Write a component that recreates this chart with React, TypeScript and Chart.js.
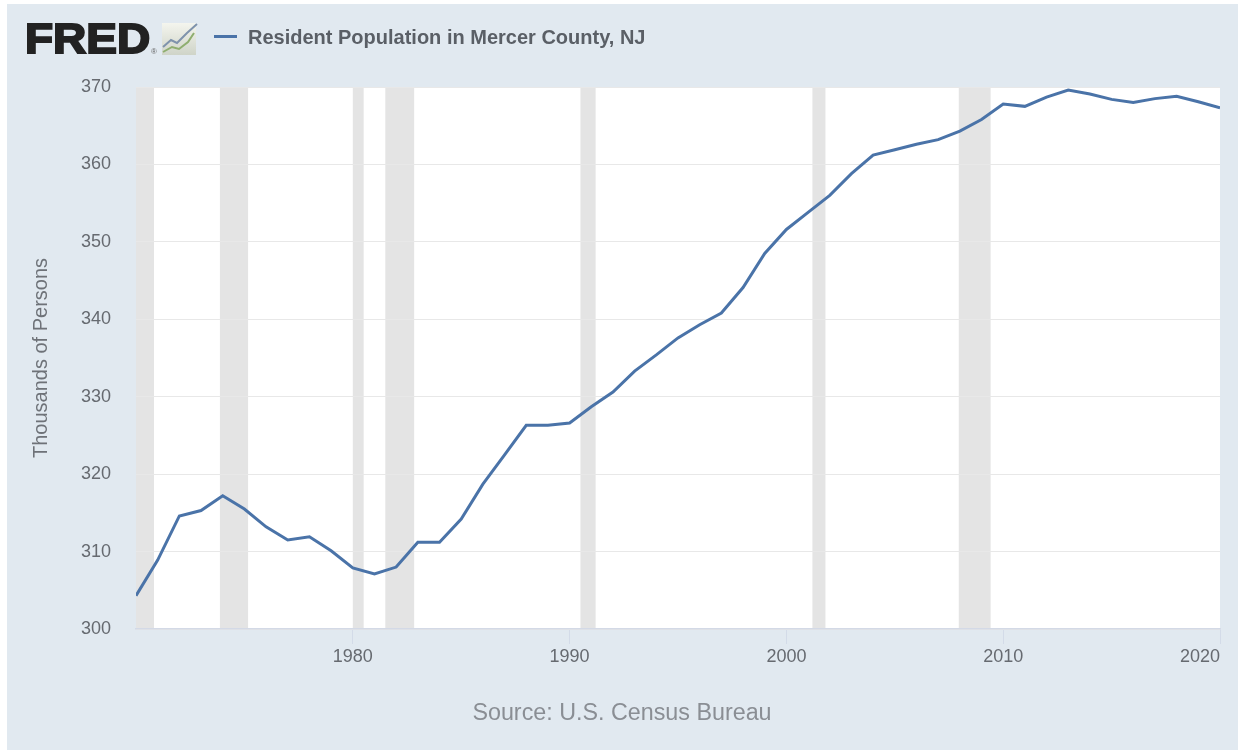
import React, { useEffect, useRef } from "react";
import { Chart, registerables } from "chart.js";

Chart.register(...registerables);

const seriesName = "Resident Population in Mercer County, NJ";
const sourceText = "Source: U.S. Census Bureau";
const yAxisTitle = "Thousands of Persons";
const years = [1970,1971,1972,1973,1974,1975,1976,1977,1978,1979,1980,1981,1982,1983,1984,1985,1986,1987,1988,1989,1990,1991,1992,1993,1994,1995,1996,1997,1998,1999,2000,2001,2002,2003,2004,2005,2006,2007,2008,2009,2010,2011,2012,2013,2014,2015,2016,2017,2018,2019,2020];
const population = [304.3,308.9,314.6,315.3,317.2,315.5,313.2,311.5,311.9,310.1,307.9,307.1,308.0,311.2,311.2,314.2,318.7,322.5,326.3,326.3,326.6,328.7,330.6,333.3,335.4,337.6,339.3,340.8,344.1,348.5,351.6,353.8,356.0,358.8,361.2,361.9,362.6,363.2,364.3,365.8,367.8,367.5,368.7,369.6,369.1,368.4,368.0,368.5,368.8,368.1,367.3];
const recessionStarts = [1970, 1973.87, 1980, 1981.5, 1990.5, 2001.2, 2007.95];
const recessionEnds = [1970.83, 1975.17, 1980.5, 1982.83, 1991.2, 2001.8, 2009.42];
const xTicks = [1980, 1990, 2000, 2010, 2020];

const FONT = "'Liberation Sans', Arial, sans-serif";

const recessionBands = {
  id: "recessionBands",
  beforeDraw(chart: any) {
    const { ctx, chartArea, scales } = chart;
    ctx.save();
    ctx.fillStyle = "#ffffff";
    ctx.fillRect(chartArea.left, chartArea.top, chartArea.right - chartArea.left, chartArea.bottom - chartArea.top);
    ctx.fillStyle = "#e4e4e4";
    recessionStarts.forEach((s, i) => {
      const a = scales.x.getPixelForValue(s);
      const b = scales.x.getPixelForValue(recessionEnds[i]);
      ctx.fillRect(a, chartArea.top, b - a, chartArea.bottom - chartArea.top);
    });
    ctx.restore();
    // keep the last x label inside the plot's right edge
    const items = scales.x.getLabelItems();
    const last = items[items.length - 1];
    if (last) last.options.textAlign = "right";
  },
};

export default function App() {
  const ref = useRef<HTMLCanvasElement>(null);
  useEffect(() => {
    document.body.style.margin = "0";
    document.body.style.overflow = "hidden";
    const chart = new Chart(ref.current as HTMLCanvasElement, {
      type: "line",
      data: {
        labels: years,
        datasets: [{
          label: seriesName,
          data: years.map((y, i) => ({ x: y, y: population[i] })),
          borderColor: "#4a73a8",
          borderWidth: 3,
          pointRadius: 0,
          tension: 0,
          fill: false,
        }],
      },
      options: {
        responsive: false,
        animation: false,
        layout: { padding: { top: 87, right: 18, bottom: 0, left: 0 } },
        plugins: { legend: { display: false }, tooltip: { enabled: false } },
        scales: {
          x: {
            type: "linear",
            min: 1970,
            max: 2020,
            afterBuildTicks: (s: any) => { s.ticks = xTicks.map((v) => ({ value: v })); },
            afterFit: (s: any) => { s.height = 121; s.paddingRight = 0; s.paddingLeft = 0; },
            grid: { drawOnChartArea: false, drawTicks: true, tickLength: 15, color: "#d3dbe8" },
            border: { color: "#d3d9e6", width: 1.5 },
            ticks: {
              autoSkip: false,
              maxRotation: 0,
              padding: 2,
              color: "#666a70",
              font: { family: FONT, size: 18 },
              callback: (v: any) => String(v),
            },
          },
          y: {
            min: 300,
            max: 370,
            afterFit: (s: any) => { s.width = 136; },
            grid: { color: "#e8e8e8", lineWidth: 1, drawTicks: false },
            border: { display: false },
            ticks: {
              stepSize: 10,
              padding: 25,
              color: "#666a70",
              font: { family: FONT, size: 18 },
            },
            title: {
              display: true,
              text: yAxisTitle,
              color: "#6e7278",
              font: { family: FONT, size: 20 },
              padding: { top: 29, bottom: 0 },
            },
          },
        },
      },
      plugins: [recessionBands],
    } as any);
    return () => chart.destroy();
  }, []);

  return (
    <div style={{ position: "absolute", left: 0, top: 0, width: 1238, height: 750, background: "#fff", overflow: "hidden" }}>
      <div style={{ position: "absolute", left: 7, top: 4, right: 0, bottom: 0, background: "#e1e9f0" }} />
      <canvas ref={ref} width={1238} height={750} style={{ position: "absolute", left: 0, top: 0, display: "block" }} />
      <div style={{ position: "absolute", left: 25, top: 13, fontFamily: FONT, fontWeight: 700, fontSize: 43, lineHeight: "50px", color: "#222", WebkitTextStroke: "2px #222", transform: "scaleX(1.07)", transformOrigin: "left top" }}>FRED</div>
      <div style={{ position: "absolute", left: 151, top: 47, fontFamily: FONT, fontSize: 8, lineHeight: "10px", color: "#666" }}>®</div>
      <svg width="36" height="33" viewBox="0 0 36 33" style={{ position: "absolute", left: 162, top: 23 }}>
        <defs>
          <linearGradient id="iconFill" x1="0" y1="0" x2="0" y2="1">
            <stop offset="0" stopColor="#f4f5ee" />
            <stop offset="1" stopColor="#cfd4c8" />
          </linearGradient>
        </defs>
        <rect x="0" y="0" width="34" height="32" fill="url(#iconFill)" />
        <polyline points="1,24 9,17 15,20 25,10 35,1" fill="none" stroke="#7f93ac" strokeWidth="2" />
        <polyline points="1,29 10,24 17,26 26,19 32,10" fill="none" stroke="#8fae6f" strokeWidth="2" />
      </svg>
      <div style={{ position: "absolute", left: 214, top: 35, width: 23, height: 3, background: "#4a73a8" }} />
      <div style={{ position: "absolute", left: 248, top: 25, fontFamily: FONT, fontWeight: 700, fontSize: 20, lineHeight: "24px", color: "#5a5f66", whiteSpace: "nowrap" }}>{seriesName}</div>
      <div style={{ position: "absolute", left: 322, width: 600, top: 698, textAlign: "center", fontFamily: FONT, fontSize: 23.3, lineHeight: "28px", color: "#8a8e94", whiteSpace: "nowrap" }}>{sourceText}</div>
    </div>
  );
}
